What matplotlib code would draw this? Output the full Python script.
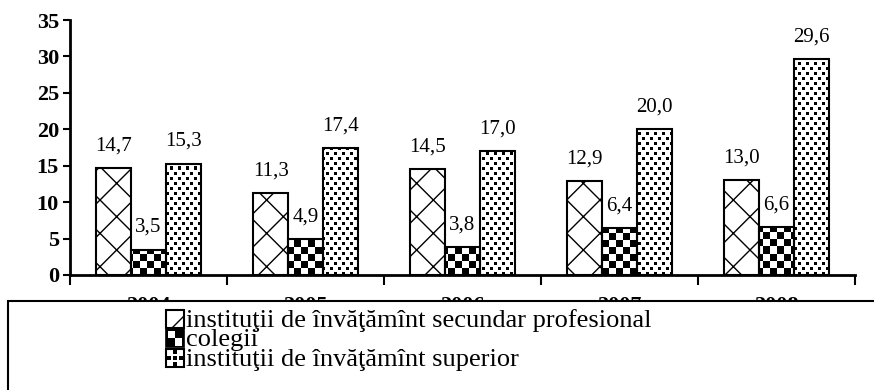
import matplotlib
matplotlib.use('Agg')
import matplotlib.pyplot as plt
import numpy as np
from matplotlib.patches import Rectangle
from matplotlib.legend_handler import HandlerBase

# Ponderea absolvenţilor, %
years = ['2004', '2005', '2006', '2007', '2008']
secundar = [14.7, 11.3, 14.5, 12.9, 13.0]
colegii = [3.5, 4.9, 3.8, 6.4, 6.6]
superior = [15.3, 17.4, 17.0, 20.0, 29.6]
labels = ['instituţii de învăţămînt secundar profesional',
          'colegii',
          'instituţii de învăţămînt superior']

plt.rcParams['font.family'] = ['Liberation Serif', 'DejaVu Serif']

W, H, DPI = 874, 390, 100
fig = plt.figure(figsize=(W / DPI, H / DPI), dpi=DPI)
ax_l, ax_b, ax_r, ax_t = 70, 275, 855, 20
ax = fig.add_axes([ax_l / W, 1 - ax_b / H, (ax_r - ax_l) / W, (ax_b - ax_t) / H])
axw, axh = ax_r - ax_l, ax_b - ax_t

x = np.arange(len(years))
w = 0.222
XL, YL = (-0.5, 4.5), (0, 35)


def checker(cell=7):
    yy, xx = np.mgrid[0:axh, 0:axw]
    return ((yy // cell + xx // cell) % 2).astype(float)


def dots(px=8, py=5, s=3):
    yy, xx = np.mgrid[0:axh, 0:axw]
    row = yy // py
    shift = (row % 2) * (px // 2)
    on = ((xx + shift) % px < s) & (yy % py < s)
    return np.where(on, 0.0, 1.0)


def fill_pattern(bars, img):
    for b in bars:
        im = ax.imshow(img, extent=(*XL, *YL), origin='lower', aspect='auto',
                       cmap='gray', vmin=0, vmax=1, interpolation='nearest', zorder=2)
        im.set_clip_path(b)


b1 = ax.bar(x - w, secundar, w, facecolor='white', edgecolor='black', hatch='x',
            linewidth=1.5, zorder=3)
b2 = ax.bar(x, colegii, w, facecolor='none', edgecolor='black', linewidth=1.5, zorder=3)
b3 = ax.bar(x + w, superior, w, facecolor='none', edgecolor='black', linewidth=1.5, zorder=3)
fill_pattern(b2, checker())
fill_pattern(b3, dots())

for bars, vals in ((b1, secundar), (b2, colegii), (b3, superior)):
    for bar, v in zip(bars, vals):
        ax.annotate(f'{v:.1f}'.replace('.', ','), (bar.get_x() + bar.get_width() / 2, v),
                    xytext=(0, 9), textcoords='offset points', ha='center', va='bottom',
                    fontsize=15)

ax.set_xlim(*XL)
ax.set_ylim(*YL)
ax.set_yticks(np.arange(0, 36, 5))
ax.set_yticklabels([str(v) for v in range(0, 36, 5)], fontsize=16, fontweight='bold')
ax.set_xticks(np.arange(-0.5, 5, 1))
ax.set_xticklabels([])
ax.set_xticks(x, minor=True)
ax.set_xticklabels(years, minor=True, fontsize=16, fontweight='bold')
ax.tick_params(axis='x', which='major', direction='out', length=7, width=1.5)
ax.tick_params(axis='x', which='minor', length=0, pad=15)
ax.tick_params(axis='y', direction='out', length=5, width=1.5, pad=3)
for s in ('top', 'right'):
    ax.spines[s].set_visible(False)
for s in ('left', 'bottom'):
    ax.spines[s].set_linewidth(2)


class PatternHandler(HandlerBase):
    def __init__(self, kind):
        super().__init__()
        self.kind = kind

    def create_artists(self, legend, orig_handle, xdescent, ydescent, width, height,
                       fontsize, trans):
        s = 13
        x0 = -xdescent + (width - s) / 2
        y0 = -ydescent + (height - s) / 2 - 1
        arts = [Rectangle((x0, y0), s, s, facecolor='white', edgecolor='black',
                          linewidth=1.2, transform=trans)]
        c = s / 3
        if self.kind == 'checker':
            arts.append(Rectangle((x0, y0), s, s, facecolor='black', linewidth=0,
                                  transform=trans))
            arts.append(Rectangle((x0 + c * 1.5, y0 + c * 0.3), c * 1.2, c * 1.2,
                                  facecolor='white', linewidth=0, transform=trans))
            arts.append(Rectangle((x0 + c * 0.3, y0 + c * 1.5), c * 1.2, c * 1.2,
                                  facecolor='white', linewidth=0, transform=trans))
        if self.kind == 'dots':
            for i in range(3):
                for j in range(3):
                    if (i + j) % 2 == 1 or (i, j) == (1, 1):
                        arts.append(Rectangle((x0 + i * c + c * 0.2, y0 + j * c + c * 0.2),
                                              c * 0.6, c * 0.6, facecolor='black',
                                              linewidth=0, transform=trans))
            arts.append(Rectangle((x0, y0), s, s, facecolor='none', edgecolor='black',
                                  linewidth=1.5, transform=trans))
        if self.kind == 'cross':
            arts.append(Rectangle((x0, y0), s, s, facecolor='white', edgecolor='black',
                                  hatch='/', linewidth=1.5, transform=trans))
        return arts


h1, h2, h3 = object(), object(), object()
fig.patches.append(Rectangle((8 / W, -0.2), 1.0, 1 - 301 / H + 0.2, transform=fig.transFigure,
                             facecolor='white', edgecolor='black', linewidth=1.5, zorder=4))
fig.legend([h1, h2, h3], labels, loc='upper left',
           bbox_to_anchor=(168 / W, 1 - 309 / H), frameon=False, fontsize=19,
           handler_map={h1: PatternHandler('cross'), h2: PatternHandler('checker'),
                        h3: PatternHandler('dots')},
           handlelength=0.55, handleheight=0.5, handletextpad=0.15, labelspacing=-0.1,
           borderpad=0.0, borderaxespad=0.0)

plt.savefig('out.png', dpi=DPI)
